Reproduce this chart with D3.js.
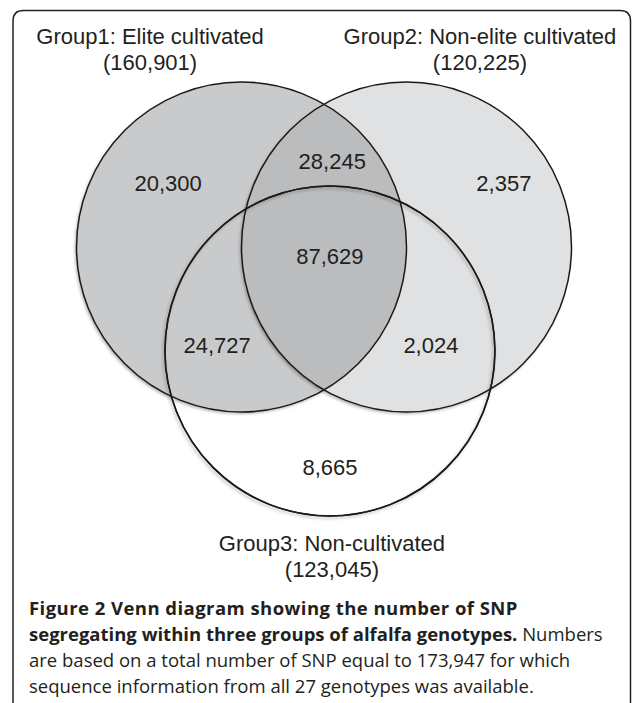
<!DOCTYPE html>
<html>
<head>
<meta charset="utf-8">
<script src="https://cdn.jsdelivr.net/npm/d3@7"></script>
<style>
  body { margin: 0; background: white; }
  svg { display: block; }
</style>
</head>
<body>
<div id="venn"></div>
<script>
var width = 632, height = 703;

// groups and their totals
let groupNames = ["Group1: Elite cultivated", "Group2: Non-elite cultivated", "Group3: Non-cultivated"];
let groupTotals = ["160,901", "120,225", "123,045"];

// region counts: 1 only, 1&2, 2 only, 1&2&3, 1&3, 2&3, 3 only
let regionKeys = ["1", "12", "2", "123", "13", "23", "3"];
let regionCounts = ["20,300", "28,245", "2,357", "87,629", "24,727", "2,024", "8,665"];

let captionLines = [
  [["Figure 2 Venn diagram showing the number of SNP", true]],
  [["segregating within three groups of alfalfa genotypes.", true], [" Numbers", false]],
  [["are based on a total number of SNP equal to 173,947 for which", false]],
  [["sequence information from all 27 genotypes was available.", false]]
];

// layout in circle-radius units
let circles = [
  { cx: -0.5, cy: 0, fill: "#c9cacc" },
  { cx: 0.5, cy: 0, fill: "#e0e1e3" },
  { cx: 0.036, cy: 0.63, fill: "none" }
];
let regionPos = {
  "1": [-0.945, -0.388], "12": [0.05, -0.521], "2": [1.09, -0.388], "123": [0.036, 0.055],
  "13": [-0.648, 0.594], "23": [0.648, 0.594], "3": [0.036, 1.333]
};
let groupPos = [[-1.054, -1.279], [0.945, -1.279], [0.048, 1.794]];

var svg = d3
  .select("#venn")
  .append("svg")
  .attr("width", width)
  .attr("height", height)
  .style("font-family", "'Liberation Sans', Arial, sans-serif");

// unit -> pixel scales
let r = 165;
let x = d3.scaleLinear().domain([0, 1]).range([324, 324 + r]);
let y = d3.scaleLinear().domain([0, 1]).range([247, 247 + r]);

// frame
svg.append("path")
  .attr("d", "M13,704 V21 Q13,10.5 23.5,10.5 H620 Q630.5,10.5 630.5,21 V704")
  .attr("fill", "none")
  .attr("stroke", "#222")
  .attr("stroke-width", 1.5);

let defs = svg.append("defs");
defs.append("filter")
  .attr("id", "shadow")
  .attr("x", "-10%").attr("y", "-10%").attr("width", "120%").attr("height", "120%")
  .append("feDropShadow")
  .attr("dx", -1.5).attr("dy", 2).attr("stdDeviation", 1.8)
  .attr("flood-color", "#000").attr("flood-opacity", 0.3);
defs.append("clipPath")
  .attr("id", "clip2")
  .append("circle")
  .attr("cx", x(circles[1].cx))
  .attr("cy", y(circles[1].cy))
  .attr("r", x(1) - x(0));

// circle fills (with shadow)
let g = svg.append("g");
g.selectAll("circle.fill")
  .data(circles.slice(0, 2))
  .join("circle")
  .attr("class", "fill")
  .attr("cx", (d) => x(d.cx))
  .attr("cy", (d) => y(d.cy))
  .attr("r", x(1) - x(0))
  .attr("fill", (d) => d.fill)
  .attr("filter", "url(#shadow)");

// overlap of 1 and 2 is darker
g.append("circle")
  .attr("cx", x(circles[0].cx))
  .attr("cy", y(circles[0].cy))
  .attr("r", x(1) - x(0))
  .attr("fill", "#bbbcbe")
  .attr("clip-path", "url(#clip2)");

// shadow for circle3 outline
g.append("circle")
  .attr("cx", x(circles[2].cx))
  .attr("cy", y(circles[2].cy))
  .attr("r", x(1) - x(0))
  .attr("fill", "none")
  .attr("stroke", "#1a1a1a")
  .attr("stroke-width", 1.5)
  .attr("filter", "url(#shadow)");

// outlines
g.selectAll("circle.line")
  .data(circles)
  .join("circle")
  .attr("class", "line")
  .attr("cx", (d) => x(d.cx))
  .attr("cy", (d) => y(d.cy))
  .attr("r", x(1) - x(0))
  .attr("fill", "none")
  .attr("stroke", "#1a1a1a")
  .attr("stroke-width", 1.5);

// region numbers
svg.selectAll("text.count")
  .data(regionKeys)
  .join("text")
  .attr("class", "count")
  .attr("x", (d) => x(regionPos[d][0]))
  .attr("y", (d) => y(regionPos[d][1]))
  .attr("dy", "0.35em")
  .attr("text-anchor", "middle")
  .style("font-size", "22px")
  .style("fill", "#231f20")
  .text((d, i) => regionCounts[i]);

// group labels
groupNames.forEach((name, i) => {
  let t = svg.append("text")
    .attr("text-anchor", "middle")
    .style("font-size", "22px")
    .style("fill", "#231f20");
  t.append("tspan").attr("x", x(groupPos[i][0])).attr("y", y(groupPos[i][1])).attr("dy", "0.35em").text(name);
  t.append("tspan").attr("x", x(groupPos[i][0])).attr("y", y(groupPos[i][1]) + 26).attr("dy", "0.35em").text("(" + groupTotals[i] + ")");
});

// caption
let cap = svg.append("text")
  .style("font-family", "'Open Sans', sans-serif")
  .style("font-size", "18.5px")
  .style("fill", "#231f20");
captionLines.forEach((line, i) => {
  let first = true;
  line.forEach((part) => {
    let ts = cap.append("tspan")
      .text(part[0])
      .style("font-weight", part[1] ? "bold" : "normal")
      .style("letter-spacing", part[1] && i === 0 ? "0.45px" : "0px");
    if (first) ts.attr("x", 29).attr("y", 615 + i * 26);
    first = false;
  });
});
</script>
</body>
</html>
